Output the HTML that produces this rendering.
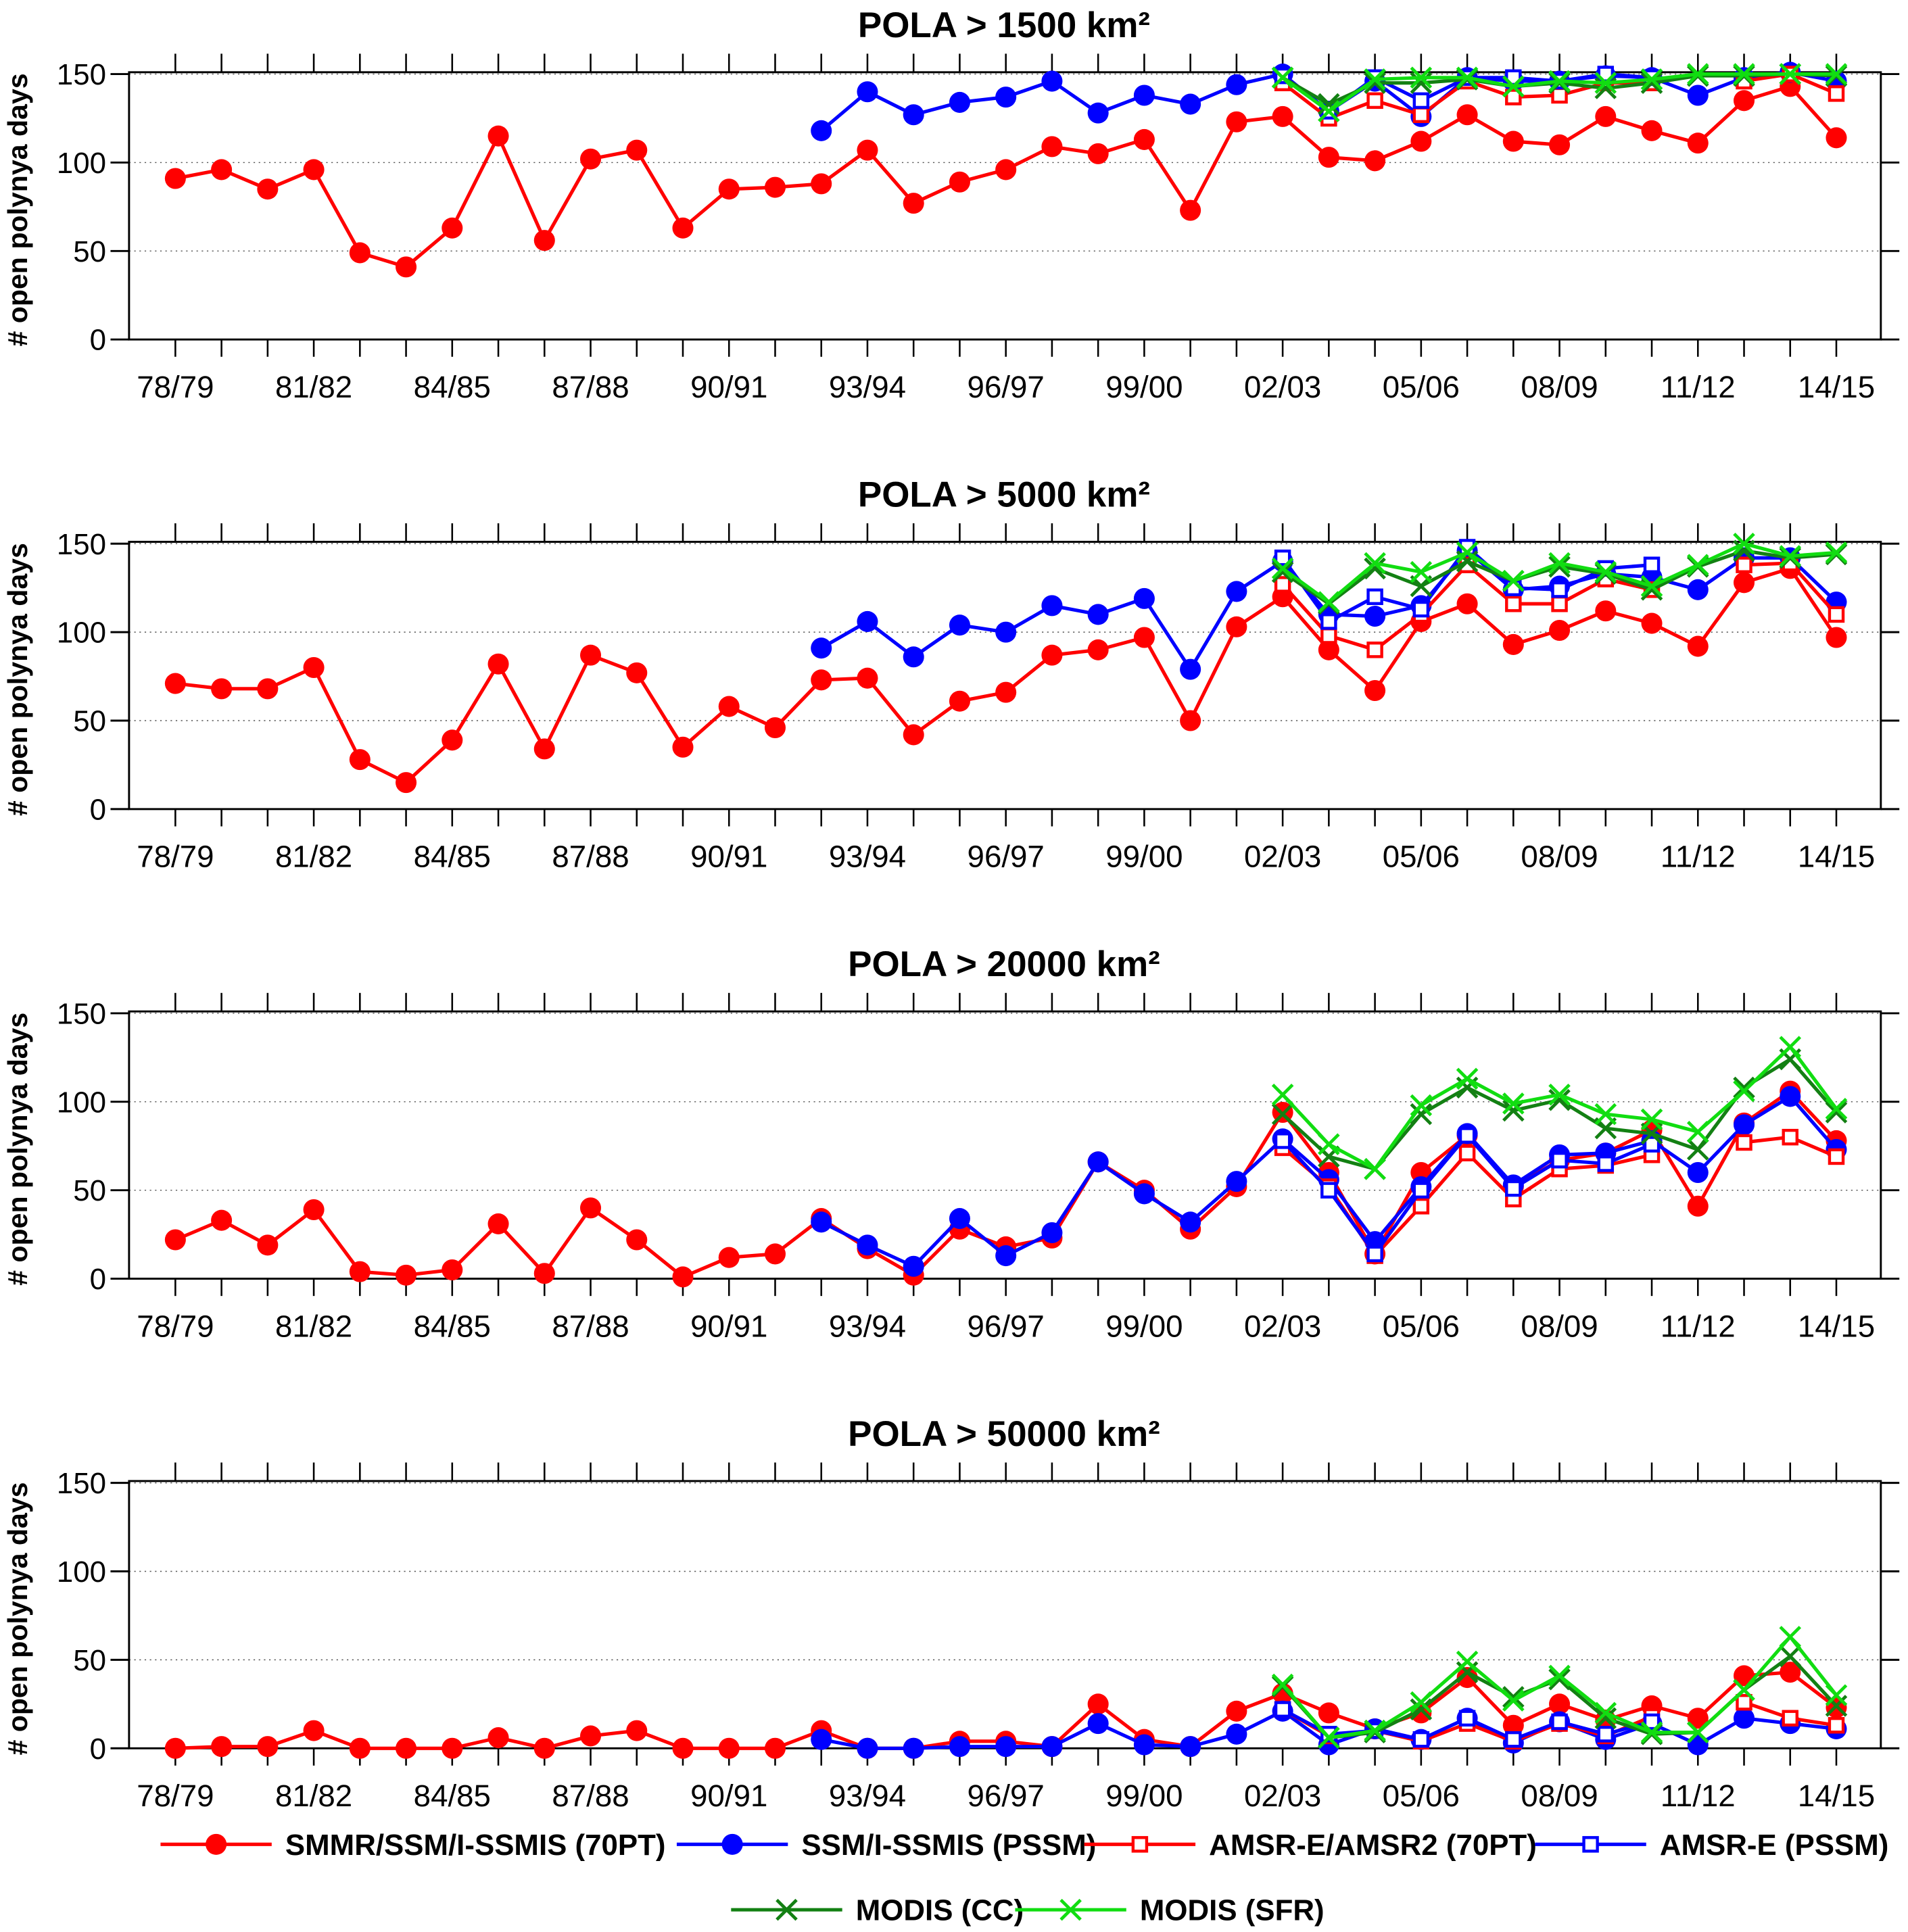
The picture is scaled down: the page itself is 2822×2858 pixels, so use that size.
<!DOCTYPE html>
<html><head><meta charset="utf-8"><style>
html,body{margin:0;padding:0;background:#fff}
svg{display:block}
text{font-family:"Liberation Sans",sans-serif}
</style></head>
<body>
<svg id="chart" xmlns="http://www.w3.org/2000/svg" width="2822" height="2858" viewBox="0 0 1545 1565" preserveAspectRatio="none">
</svg>
<script>
const N = null;
const seasons = ["78/79","79/80","80/81","81/82","82/83","83/84","84/85","85/86","86/87","87/88","88/89","89/90","90/91","91/92","92/93","93/94","94/95","95/96","96/97","97/98","98/99","99/00","00/01","01/02","02/03","03/04","04/05","05/06","06/07","07/08","08/09","09/10","10/11","11/12","12/13","13/14","14/15"];
const panelTitles = ["POLA > 1500 km²","POLA > 5000 km²","POLA > 20000 km²","POLA > 50000 km²"];
const yTicks = [0,50,100,150];
const xLabelIdx = [0,3,6,9,12,15,18,21,24,27,30,33,36];
const pad14 = [N,N,N,N,N,N,N,N,N,N,N,N,N,N];
const pad24 = [N,N,N,N,N,N,N,N,N,N,N,N,N,N,N,N,N,N,N,N,N,N,N,N];
// Panel 1
const p1_red70 = [91,96,85,96,49,41,63,115,56,102,107,63,85,86,88,107,77,89,96,109,105,113,73,123,126,103,101,112,127,112,110,126,118,111,135,143,114];
const p1_pssm = pad14.concat([118,140,127,134,137,146,128,138,133,144,150,129,146,126,148,146,146,149,148,138,148,151,146]);
const p1_amsr70 = pad24.concat([145,125,135,127,146,137,138,145,145,N,146,150,139]);
const p1_amsrP = pad24.concat([149,129,148,135,148,148,146,150,148,N,N,N,N]);
const p1_cc = pad24.concat([148,133,145,145,147,143,145,142,145,149,149,150,149]);
const p1_sfr = pad24.concat([148,129,147,148,148,143,146,145,147,150,150,150,150]);
// Panel 2
const p2_red70 = [71,68,68,80,28,15,39,82,34,87,77,35,58,46,73,74,42,61,66,87,90,97,50,103,120,90,67,106,116,93,101,112,105,92,128,136,97];
const p2_pssm = pad14.concat([91,106,86,104,100,115,110,119,79,123,140,110,109,115,146,124,126,133,131,124,142,142,117]);
const p2_amsr70 = pad24.concat([127,98,90,110,138,116,116,130,124,N,138,139,110]);
const p2_amsrP = pad24.concat([142,106,120,113,148,125,124,136,138,N,N,N,N]);
const p2_cc = pad24.concat([134,116,136,126,140,129,137,133,124,137,146,142,144]);
const p2_sfr = pad24.concat([136,117,139,134,145,129,139,134,126,138,150,143,145]);
// Panel 3
const p3_red70 = [22,33,19,39,4,2,5,31,3,40,22,1,12,14,34,17,2,28,18,23,66,50,28,52,94,60,14,60,81,52,67,71,84,41,88,106,78];
const p3_pssm = pad14.concat([32,19,7,34,13,26,66,48,32,55,79,56,21,52,82,53,70,71,78,60,87,103,73]);
const p3_amsr70 = pad24.concat([74,52,13,41,71,45,62,64,70,N,77,80,69]);
const p3_amsrP = pad24.concat([78,50,14,50,81,51,67,65,76,N,N,N,N]);
const p3_cc = pad24.concat([93,69,62,93,108,95,101,85,82,73,108,124,94]);
const p3_sfr = pad24.concat([104,76,62,98,113,99,104,93,90,83,106,131,96]);
// Panel 4
const p4_red70 = [0,1,1,10,0,0,0,6,0,7,10,0,0,0,10,0,0,4,4,1,25,5,1,21,31,20,11,20,40,13,25,16,24,17,41,43,23];
const p4_pssm = pad14.concat([5,0,0,1,1,1,14,2,1,8,21,2,11,5,17,3,15,5,14,2,17,14,11]);
const p4_amsr70 = pad24.concat([22,7,10,4,14,4,14,7,18,N,26,17,13]);
const p4_amsrP = pad24.concat([22,8,10,5,17,5,15,8,15,N,N,N,N]);
const p4_cc = pad24.concat([35,6,9,22,43,29,39,17,8,9,33,52,24]);
const p4_sfr = pad24.concat([36,6,10,26,49,27,41,20,9,9,33,63,30]);

const panels = [
  [p1_red70,p1_pssm,p1_amsr70,p1_amsrP,p1_cc,p1_sfr],
  [p2_red70,p2_pssm,p2_amsr70,p2_amsrP,p2_cc,p2_sfr],
  [p3_red70,p3_pssm,p3_amsr70,p3_amsrP,p3_cc,p3_sfr],
  [p4_red70,p4_pssm,p4_amsr70,p4_amsrP,p4_cc,p4_sfr]
];
const seriesNames = ["SMMR/SSM/I-SSMIS (70PT)","SSM/I-SSMIS (PSSM)","AMSR-E/AMSR2 (70PT)","AMSR-E (PSSM)","MODIS (CC)","MODIS (SFR)"];
const seriesKeys = ["smmr-70pt","ssmi-pssm","amsr-70pt","amsre-pssm","modis-cc","modis-sfr"];
const colors = ["#ff0000","#0000ff","#ff0000","#0000ff","#138013","#11dd11"];
const markers = ["circle","circle","square","square","x","x"];
const drawOrder = [0,1,2,3,4,5];

const svg = document.getElementById('chart');
const NS = "http://www.w3.org/2000/svg";
function el(tag, attrs, parent){
  const e = document.createElementNS(NS, tag);
  for (const k in attrs) e.setAttribute(k, attrs[k]);
  (parent||svg).appendChild(e);
  return e;
}
const X0 = 104.5, X1 = 1523, PLOT_H = 216.5, YSCALE = 215/150;
function xPos(i){ return 142 + i*37.36; }
function yBase(p){ return 275 + p*380.4; }
function yPos(p, v){ return yBase(p) - v*YSCALE; }

function drawMarker(g, type, x, y, c){
  let m;
  if (type === "circle") {
    m = el('circle', {cx:x, cy:y, r:8.5, fill:c}, g);
  } else if (type === "square") {
    m = el('rect', {x:x-5.5, y:y-5.5, width:11, height:11, fill:'#fff', stroke:c, 'stroke-width':2.4}, g);
  } else {
    m = el('path', {d:`M${x-8},${y-8}L${x+8},${y+8}M${x-8},${y+8}L${x+8},${y-8}`, stroke:c, 'stroke-width':2.6, fill:'none'}, g);
  }
  return m;
}

panels.forEach((series, p) => {
  const g = el('g', {});
  
  
  const y0 = yBase(p), yTop = y0 - PLOT_H;
  const t = el('text', {x:813, y:y0-245, 'text-anchor':'middle', 'font-size':29, 'font-weight':'bold'}, g);
  t.textContent = panelTitles[p];
  
  
  [50,100,150].forEach(v => {
    const gl = el('line', {x1:X0, x2:X1, y1:yPos(p,v), y2:yPos(p,v), stroke:'#555', 'stroke-width':0.8, 'stroke-dasharray':'1.2,3'}, g);
    
    
  });
  const fr = el('rect', {x:X0, y:yTop, width:X1-X0, height:PLOT_H, fill:'none', stroke:'#000', 'stroke-width':1.6}, g);
  
  
  yTicks.forEach(v => {
    const yy = yPos(p,v);
    el('line', {x1:X0-15, x2:X0, y1:yy, y2:yy, stroke:'#000', 'stroke-width':1.6}, g);
    el('line', {x1:X1, x2:X1+15, y1:yy, y2:yy, stroke:'#000', 'stroke-width':1.6}, g);
    const lt = el('text', {x:86, y:yy+8.5, 'text-anchor':'end', 'font-size':24}, g);
    lt.textContent = v;
    
    
  });
  seasons.forEach((s, i) => {
    const xx = xPos(i);
    el('line', {x1:xx, x2:xx, y1:yTop-15, y2:yTop, stroke:'#000', 'stroke-width':1.4}, g);
    el('line', {x1:xx, x2:xx, y1:y0, y2:y0+14, stroke:'#000', 'stroke-width':1.4}, g);
  });
  xLabelIdx.forEach(i => {
    const lt = el('text', {x:xPos(i), y:y0+47, 'text-anchor':'middle', 'font-size':25}, g);
    lt.textContent = seasons[i];
    
    
  });
  const yt = el('text', {x:0, y:0, 'text-anchor':'middle', 'font-size':22.5, 'font-weight':'bold', transform:`translate(22,${y0-105}) rotate(-90)`}, g);
  yt.textContent = '# open polynya days';
  
  
  drawOrder.forEach(s => {
    const vals = series[s];
    const sg = el('g', {}, g);
    
    
    let d = '', pen = false;
    vals.forEach((v, i) => {
      if (v === null) { pen = false; return; }
      d += (pen ? 'L' : 'M') + xPos(i).toFixed(1) + ',' + yPos(p, v).toFixed(1);
      pen = true;
    });
    const ln = el('path', {d:d, fill:'none', stroke:colors[s], 'stroke-width':2.8, 'stroke-linejoin':'round'}, sg);
    
    
    vals.forEach((v, i) => {
      if (v === null) return;
      const m = drawMarker(sg, markers[s], xPos(i), yPos(p, v), colors[s]);
      
      
    });
  });
});

const legendPos = [[130,1494],[548,1494],[878,1494],[1243,1494],[592,1547],[822,1547]];
const lg = el('g', {});


seriesNames.forEach((name, s) => {
  const [lx, ly] = legendPos[s];
  const eg = el('g', {}, lg);
  
  
  el('line', {x1:lx, x2:lx+90, y1:ly, y2:ly, stroke:colors[s], 'stroke-width':2.8}, eg);
  drawMarker(eg, markers[s], lx+45, ly, colors[s]);
  const tx = el('text', {x:lx+101, y:ly+8.5, 'font-size':24, 'font-weight':'bold'}, eg);
  tx.textContent = name;
});
</script>
</body></html>
